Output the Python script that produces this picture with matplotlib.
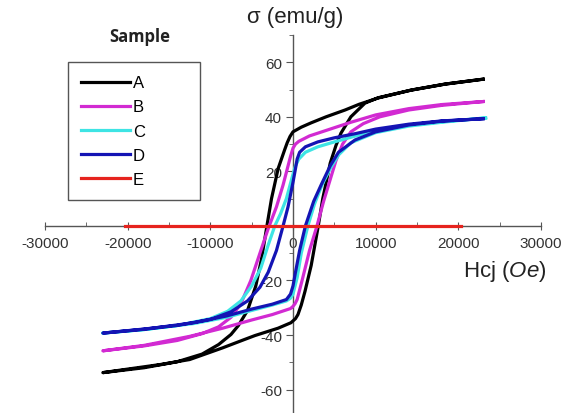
import matplotlib
matplotlib.use("Agg")
import matplotlib.pyplot as plt
from matplotlib.ticker import MultipleLocator, FixedLocator

plt.rcParams['font.family'] = ['Liberation Sans', 'DejaVu Sans']
plt.rcParams['axes.unicode_minus'] = False
plt.rcParams['mathtext.fontset'] = 'custom'
plt.rcParams['mathtext.rm'] = 'Liberation Sans'
plt.rcParams['mathtext.it'] = 'Liberation Sans:italic'

# hysteresis loops, field Hcj (Oe) vs magnetisation sigma (emu/g)
# "up" = descending branch (+H -> -H), "lo" = ascending branch (-H -> +H)
a_up_h = [23000, 18400, 14300, 10300, 8000, 6300, 4000, 2200, 1000, 0, -360, -700, -1000,
          -1800, -2600, -3100, -3800, -4500, -5500, -6600, -7500, -9000, -11000, -14000,
          -18000, -23000]
a_up_m = [53.8, 52, 49.8, 46.9, 44.6, 42.5, 40, 37.8, 36.2, 34.5, 32.8, 30.5, 28,
          21, 10, 1, -12, -22, -31, -36.5, -39.8, -43.5, -47, -49.8,
          -52, -53.8]
a_lo_h = [-23000, -20000, -16000, -12500, -8500, -6000, -4600, -1800, -250, 300, 600,
          1000, 1450, 2200, 3000, 3600, 4500, 5200, 5800, 7000, 8700, 10300, 14300,
          18400, 23000]
a_lo_m = [-53.8, -52.5, -50.8, -49, -44.7, -41.8, -40.2, -37.5, -35.5, -34, -32.5,
          -29, -24, -14.5, -1, 10, 23, 29.5, 34, 40, 45, 47, 49.8,
          52, 53.8]

b_up_h = [23000, 18000, 14000, 10000, 7000, 4000, 2000, 700, 300, 0, -300, -600, -1200,
          -2000, -3000, -4000, -5100, -6300, -7500, -9000, -11000, -14000, -18000, -23000]
b_up_m = [45.6, 44.5, 43, 40.7, 38, 35, 33, 31, 30, 28.5, 25.5, 22, 15,
          7, -1, -10, -20, -28.5, -33.5, -37, -39.5, -42, -44, -45.8]
b_lo_h = [-23000, -18000, -12500, -8500, -5000, -2500, -1000, -300, 0, 250, 500, 1100,
          2000, 2900, 3700, 4400, 5200, 6000, 7000, 8500, 10500, 14000, 18000, 23000]
b_lo_m = [-45.8, -43.8, -40.5, -37.5, -34.5, -32.5, -31, -30.3, -29.5, -28.5, -27, -20,
          -9, 0, 9, 16, 24, 30, 34.5, 37.5, 40, 42.5, 44.2, 45.6]

c_up_h = [23300, 18000, 14000, 10000, 7000, 5000, 3000, 1500, 700, 300, 0, -800, -1500,
          -2200, -3000, -3900, -5000, -6300, -7900, -10000, -14000, -18000, -23000]
c_up_m = [39.6, 38.2, 37, 35, 32.5, 30.8, 29, 27, 24.5, 22, 19, 10, 4.5,
          0, -7, -15.5, -22, -27.5, -31.3, -34, -36.5, -38, -39.3]
c_lo_h = [-23000, -18000, -12000, -8000, -5000, -2500, -800, -300, 0, 500, 1000, 1800,
          2600, 3500, 4500, 5500, 7000, 10000, 14000, 18000, 23300]
c_lo_m = [-39.3, -38, -35.8, -33.5, -31, -29, -27.5, -26.5, -25, -19, -10, 0,
          8, 15, 21, 26, 30.5, 34.2, 36.6, 38, 39.6]

d_up_h = [23000, 18000, 14000, 10000, 7500, 5000, 3000, 1500, 800, 500, 300, 0, -600,
          -1200, -2000, -3000, -4000, -5500, -7500, -10000, -14000, -18000, -23000]
d_up_m = [39.3, 38.5, 37.3, 35.5, 33.8, 32.3, 30.8, 29, 27, 24.5, 21, 16, 7,
          0, -9, -17, -22.5, -27.5, -31.5, -34.3, -36.5, -37.8, -39.3]
d_lo_h = [-23000, -18000, -12000, -8000, -5000, -2500, -800, -300, 0, 300, 800, 1500,
          2500, 3400, 4500, 5500, 7500, 10000, 14000, 18000, 23000]
d_lo_m = [-39.3, -37.9, -35.5, -33, -30.5, -28.7, -27, -25, -22, -17, -9, 0,
          9, 15, 22, 27, 31.5, 34.5, 37, 38.4, 39.3]

e_h = [-20300, 20300]
e_m = [0, 0]

samples = ['A', 'B', 'C', 'D', 'E']
colors = ['#000000', '#d22ad2', '#3ee4e4', '#1414b4', '#e6231e']

loops = [
    (a_up_h + a_lo_h, a_up_m + a_lo_m),
    (b_up_h + b_lo_h, b_up_m + b_lo_m),
    (c_up_h + c_lo_h, c_up_m + c_lo_m),
    (d_up_h + d_lo_h, d_up_m + d_lo_m),
    (e_h, e_m),
]

fig = plt.figure(figsize=(5.69, 4.14), dpi=100)
ax = fig.add_axes([45 / 569, 0, 496 / 569, 378 / 414])
ax.set_facecolor('none')

for (h, m), name, col in zip(loops, samples, colors):
    ax.plot(h, m, color=col, lw=2.3, label=name, zorder=3)

ax.set_xlim(-30000, 30000)
ax.set_ylim(-68.6, 70)

for side in ['top', 'right']:
    ax.spines[side].set_visible(False)
ax.spines['left'].set_position(('data', 0))
ax.spines['bottom'].set_position(('data', 0))
for side in ['left', 'bottom']:
    ax.spines[side].set_color('#555555')
    ax.spines[side].set_linewidth(1.0)

ax.xaxis.set_major_locator(MultipleLocator(10000))
ax.xaxis.set_minor_locator(MultipleLocator(5000))
ax.yaxis.set_major_locator(FixedLocator([-60, -40, -20, 20, 40, 60]))
ax.yaxis.set_minor_locator(MultipleLocator(10))

ax.tick_params(axis='x', which='major', direction='inout', length=6, pad=4,
               labelsize=11, color='#555555', labelcolor='#333333')
ax.tick_params(axis='x', which='minor', direction='in', length=3, color='#555555')
ax.tick_params(axis='y', which='major', direction='out', length=5, pad=3,
               labelsize=11, color='#555555', labelcolor='#333333')
ax.tick_params(axis='y', which='minor', direction='out', length=3, color='#555555')

fig.text(295 / 569, 1 - 17 / 414, 'σ (emu/g)', ha='center', va='center',
         fontsize=16, color='#222222')
fig.text(505 / 569, 1 - 271 / 414, r'Hcj ($\it{Oe}$)', ha='center', va='center',
         fontsize=16, color='#222222')
fig.text(140 / 569, 1 - 37 / 414, 'Sample', ha='center', va='center',
         fontsize=12, fontweight='bold', family=['Open Sans', 'DejaVu Sans'],
         color='#222222')

leg = ax.legend(loc='upper left', bbox_to_anchor=(68 / 569, 1 - 63 / 414, 132 / 569, 0),
                bbox_transform=fig.transFigure, mode='expand', fontsize=12,
                handlelength=2.9, handletextpad=0.2, labelspacing=0.55,
                borderpad=0.8, borderaxespad=0, fancybox=False, framealpha=1)
leg.get_frame().set_edgecolor('#555555')
leg.get_frame().set_linewidth(1.0)
leg.set_zorder(5)

fig.savefig('out.png', dpi=100)
